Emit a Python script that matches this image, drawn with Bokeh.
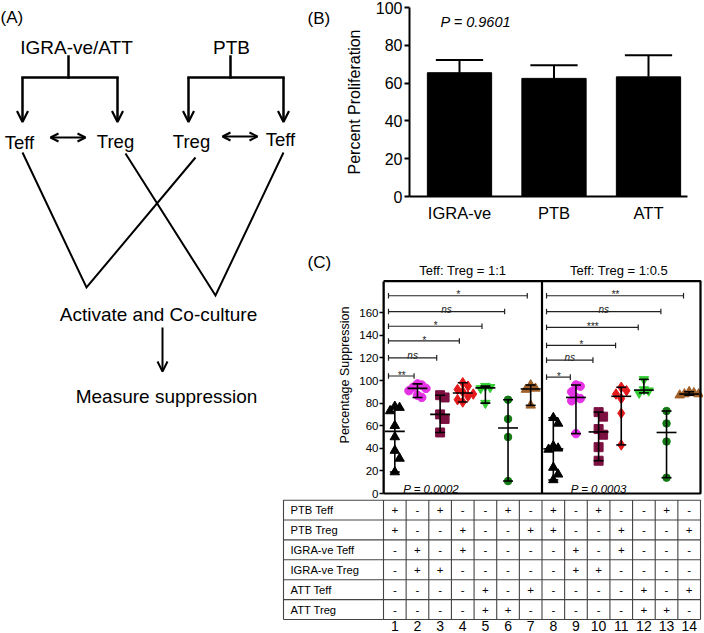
from bokeh.plotting import figure
from bokeh.layouts import row, column
from bokeh.models import Range1d, FixedTicker, Arrow, OpenHead, Spacer
from bokeh.embed import file_html
from bokeh.resources import INLINE
from bokeh.core.properties import value

# ------------------------------------------------------------------ data
b_groups = ["IGRA-ve", "PTB", "ATT"]
b_mean = [65.5, 62.5, 63.3]
b_err = [6.7, 7.0, 11.4]
b_yticks = [0, 20, 40, 60, 80, 100]
b_pvalue = "P = 0.9601"

c_titles = ["Teff: Treg = 1:1", "Teff: Treg = 1:0.5"]
c_pvalues = ["P = 0.0002", "P = 0.0003"]
c_yticks = [0, 20, 40, 60, 80, 100, 120, 140, 160]
c_ylabel = "Percentage Suppression"

sup_1to1 = [
    [77, 76, 73, 60, 50, 38, 31, 19],
    [97, 96, 94, 93, 91, 87, 85],
    [87, 85, 70, 66, 54],
    [98, 95, 92, 90, 88, 86, 83, 81],
    [95, 94, 93, 80],
    [83, 66, 50, 11],
    [96, 93, 92, 78],
]
sup_1to05 = [
    [67, 62, 42, 40, 39, 23, 17, 12],
    [96, 95, 90, 85, 84, 82, 53],
    [72, 68, 57, 52, 41, 29],
    [94, 91, 88, 84, 71, 43],
    [101, 92, 91, 89],
    [73, 62, 46, 14],
    [90, 89, 88, 88, 87],
]
sig_1to1 = ["**", "ns", "*", "*", "ns", "*"]
sig_1to05 = ["*", "ns", "*", "***", "ns", "**"]

table_rows = ["PTB Teff", "PTB Treg", "IGRA-ve Teff", "IGRA-ve Treg", "ATT Teff", "ATT Treg"]
table_marks = [
    ["+", "-", "+", "-", "-", "+", "-", "+", "-", "+", "-", "-", "+", "-"],
    ["+", "-", "-", "+", "-", "-", "+", "+", "-", "-", "+", "-", "-", "+"],
    ["-", "+", "-", "+", "-", "-", "-", "-", "+", "-", "+", "-", "-", "-"],
    ["-", "+", "+", "-", "-", "-", "-", "-", "+", "+", "-", "-", "-", "-"],
    ["-", "-", "-", "-", "+", "-", "+", "-", "-", "-", "-", "+", "-", "+"],
    ["-", "-", "-", "-", "+", "+", "-", "-", "-", "-", "-", "+", "+", "-"],
]
group_numbers = ["1", "2", "3", "4", "5", "6", "7", "8", "9", "10", "11", "12", "13", "14"]

# ------------------------------------------------------------------ layout / style
FONT = "Liberation Sans"


def F(v):
    return f"{v:.2f}px"


PAGE_W = 703
PAGE_H = 632
W_A = 334
W_R = PAGE_W - W_A
H_B = 250
H_C = 249
H_A = H_B + H_C
W_SP = 281
W_T = PAGE_W - W_SP
H_T = PAGE_H - H_A

grp_colors = ["#000000", "#e632e6", "#7c1040", "#e41a1c", "#33cc33", "#137a13", "#a0602a"]
grp_markers = ["triangle", "circle", "square", "diamond", "inverted_triangle", "circle", "triangle"]
grp_sizes = [9.5, 8.5, 9, 10.5, 9.5, 7.5, 9.5]


def base_fig(**kw):
    p = figure(output_backend="svg", toolbar_location=None, min_border=0,
               background_fill_color="white", border_fill_color="white", **kw)
    p.outline_line_color = None
    p.grid.grid_line_color = None
    p.frame_align = False
    return p


# ------------------------------------------------------------------ panel A (diagram)
pa = base_fig(width=W_A, height=H_A, x_range=Range1d(0, W_A), y_range=Range1d(H_A, 0),
              x_axis_location=None, y_axis_location=None)

pa.text(x=[0, 307, 307], y=[17, 17.5, 262], text=["(A)", "(B)", "(C)"],
        text_font=value(FONT), text_font_size=F(17), text_align="left",
        text_baseline="alphabetic", text_color="black")
pa.text(x=[76, 231, 158, 166], y=[46.5, 46.5, 314, 396],
        text=["IGRA-ve/ATT", "PTB", "Activate and Co-culture", "Measure suppression"],
        text_font=value(FONT), text_font_size=F(19), text_align="center",
        text_baseline="alphabetic", text_color="black")
pa.text(x=[19, 115, 191, 280], y=[141.5, 140.5, 140.5, 139],
        text=["Teff", "Treg", "Treg", "Teff"],
        text_font=value(FONT), text_font_size=F(18.5), text_align="center",
        text_baseline="alphabetic", text_color="black")

pa.multi_line(xs=[[68, 68], [22, 117], [230, 230], [188, 283]],
              ys=[[56, 77], [77, 77], [56, 77], [77, 77]],
              line_color="black", line_width=2.5, line_cap="square")
pa.multi_line(xs=[[22, 86, 195], [125, 215, 283]],
              ys=[[152, 287, 157], [153, 295, 152]],
              line_color="black", line_width=2, line_join="miter")

for xa in [22, 117, 188, 283]:
    pa.add_layout(Arrow(end=OpenHead(size=11, line_width=2.2, line_color="black"),
                        x_start=xa, y_start=77, x_end=xa, y_end=121.5,
                        line_width=2.5, line_color="black"))
for (xs0, xs1, yy) in [(50, 85, 137), (222, 257, 136)]:
    pa.add_layout(Arrow(start=OpenHead(size=8, line_width=2, line_color="black"),
                        end=OpenHead(size=8, line_width=2, line_color="black"),
                        x_start=xs0, y_start=yy, x_end=xs1, y_end=yy,
                        line_width=2, line_color="black"))
pa.add_layout(Arrow(end=OpenHead(size=10, line_width=2, line_color="black"),
                    x_start=162, y_start=327, x_end=162, y_end=371,
                    line_width=2, line_color="black"))

# ------------------------------------------------------------------ panel B (bars)
B_BL = 409 - W_A
B_BR = PAGE_W - 687
B_BT = 7
B_BB = H_B - B_BT - 189
b_ux = 94.5
b_x = [1, 2, 3]
b_x0 = 1 - (459 - 409) / b_ux
b_x1 = b_x0 + (W_R - B_BL - B_BR) / b_ux

pb = base_fig(width=W_R, height=H_B, x_range=Range1d(b_x0, b_x1), y_range=Range1d(0, 100))
pb.min_border_left = B_BL
pb.min_border_right = B_BR
pb.min_border_top = B_BT
pb.min_border_bottom = B_BB

b_top = [m + e for m, e in zip(b_mean, b_err)]
pb.segment(x0=b_x, x1=b_x, y0=b_mean, y1=b_top, line_color="black", line_width=2)
pb.segment(x0=[x - 0.25 for x in b_x], x1=[x + 0.25 for x in b_x], y0=b_top, y1=b_top,
           line_color="black", line_width=2)
pb.vbar(x=b_x, top=b_mean, width=0.68, bottom=0, fill_color="black", line_color="black")
pb.text(x=[b_x0 + (440 - 409) / b_ux], y=[92.4], text=[b_pvalue], text_font=value(FONT),
        text_font_size=F(14.5), text_font_style="italic", text_align="left",
        text_baseline="alphabetic", text_color="black")

pb.yaxis.ticker = FixedTicker(ticks=b_yticks)
pb.yaxis.axis_label = "Percent Proliferation"
pb.xaxis.ticker = FixedTicker(ticks=b_x)
pb.xaxis.major_label_overrides = {x: g for x, g in zip(b_x, b_groups)}
for ax in [pb.xaxis[0], pb.yaxis[0]]:
    ax.axis_line_width = 2
    ax.axis_line_color = "black"
    ax.major_tick_line_width = 2
    ax.major_tick_line_color = "black"
    ax.minor_tick_line_color = None
    ax.major_tick_in = 0
    ax.major_label_text_font = FONT
    ax.major_label_text_color = "black"
    ax.axis_label_text_font = FONT
    ax.axis_label_text_font_style = "normal"
    ax.axis_label_text_color = "black"
pb.yaxis.major_tick_out = 5
pb.yaxis.major_label_text_font_size = F(16)
pb.yaxis.major_label_standoff = 2
pb.yaxis.axis_label_text_font_size = F(16)
pb.yaxis.axis_label_standoff = 10
pb.xaxis.major_tick_out = 0
pb.xaxis.major_label_text_font_size = F(16.5)
pb.xaxis.major_label_standoff = 7

# ------------------------------------------------------------------ panel C (scatter)
C_BL = 383 - W_A
UX = 317 / 14
UY = 1.13
C_Y0_PX = 243
C_TOP = 188
c_x1 = 0.5 + (W_R - C_BL) / UX
c_y1 = C_Y0_PX / UY
c_y0 = -(H_C - C_Y0_PX) / UY

pc = base_fig(width=W_R, height=H_C, x_range=Range1d(0.5, c_x1), y_range=Range1d(c_y0, c_y1),
              x_axis_location=None)
pc.min_border_left = C_BL

all_groups = sup_1to1 + sup_1to05


def swarm(vals, size_px):
    placed = []
    offs = []
    cands = [0]
    for i in range(1, 12):
        cands += [i, -i]
    for v in vals:
        vy = v * UY
        ox = 0
        for c in cands:
            ox = c * 0.5 * size_px
            if all(not (abs(ox - a) < 0.5 * size_px and abs(vy - b) < 0.85 * size_px)
                   for a, b in placed):
                break
        placed.append((ox, vy))
        offs.append(ox / UX)
    return offs


for gi, vals in enumerate(all_groups):
    k = gi % 7
    g = gi + 1
    sz = grp_sizes[k]
    offs = swarm(vals, sz)
    pc.scatter(x=[g + o for o in offs], y=vals, marker=grp_markers[k], size=sz,
               fill_color=grp_colors[k], line_color=grp_colors[k])

med, lo, hi, gx = [], [], [], []
for gi, vals in enumerate(all_groups):
    s = sorted(vals)
    n = len(s)
    m = s[n // 2] if n % 2 else (s[n // 2 - 1] + s[n // 2]) / 2
    med.append(m)
    lo.append(s[0])
    hi.append(s[-1])
    gx.append(gi + 1)
pc.segment(x0=gx, x1=gx, y0=lo, y1=hi, line_color="black", line_width=1.6)
pc.segment(x0=[x - 0.22 for x in gx] * 2, x1=[x + 0.22 for x in gx] * 2, y0=lo + hi, y1=lo + hi,
           line_color="black", line_width=1.6)
pc.segment(x0=[x - 0.44 for x in gx], x1=[x + 0.44 for x in gx], y0=med, y1=med,
           line_color="black", line_width=1.6)

# frame box and divider
pc.quad(left=[0.5], right=[14.5], bottom=[0], top=[C_TOP], fill_color=None,
        line_color="black", line_width=2.2)
pc.segment(x0=[7.5], x1=[7.5], y0=[0], y1=[C_TOP], line_color="black", line_width=2.2)

# significance brackets
br_h_left = [104, 120, 135, 148, 161, 175]
br_h_right = [103, 118, 131, 147, 161, 175]
bx0, bx1, by, blab = [], [], [], []
for j, (h, lab) in enumerate(zip(br_h_left, sig_1to1)):
    bx0.append(1 - 0.28)
    bx1.append(j + 2 - 0.15)
    by.append(h)
    blab.append(lab)
for j, (h, lab) in enumerate(zip(br_h_right, sig_1to05)):
    bx0.append(8 - 0.3)
    bx1.append(j + 9 - 0.25)
    by.append(h)
    blab.append(lab)
tick_h = 2.8 / UY
pc.segment(x0=bx0, x1=bx1, y0=by, y1=by, line_color="#222222", line_width=1.2)
pc.segment(x0=bx0 + bx1, x1=bx0 + bx1, y0=[b - tick_h for b in by] * 2,
           y1=[b + tick_h for b in by] * 2, line_color="#222222", line_width=1.2)
lab_y = [b + (2.5 if l == "ns" else 0.8) / UY for b, l in zip(by, blab)]
pc.text(x=[(a + b) / 2 for a, b in zip(bx0, bx1)], y=lab_y, text=blab,
        text_font=value(FONT), text_font_size=F(10), text_font_style="italic",
        text_align="center", text_baseline="alphabetic", text_color="#222222")

pc.text(x=[4.0, 10.9], y=[197.3, 197.3], text=c_titles, text_font=value(FONT),
        text_font_size=F(13), text_align="center", text_baseline="alphabetic",
        text_color="black")
pc.text(x=[1.37, 8.77], y=[4.2, 4.2], text=c_pvalues, text_font=value(FONT),
        text_font_size=F(11.5), text_font_style="italic", text_align="left",
        text_baseline="alphabetic", text_color="black")

yax = pc.yaxis[0]
yax.ticker = FixedTicker(ticks=c_yticks)
yax.bounds = (0, C_TOP)
yax.axis_label = c_ylabel
yax.axis_label_text_font = FONT
yax.axis_label_text_font_style = "normal"
yax.axis_label_text_font_size = F(12.5)
yax.axis_label_text_color = "black"
yax.axis_label_standoff = 4
yax.major_label_text_font = FONT
yax.major_label_text_font_size = F(11.5)
yax.major_label_text_color = "black"
yax.major_label_standoff = 1
yax.major_tick_out = 4
yax.major_tick_in = 0
yax.minor_tick_line_color = None
yax.axis_line_width = 2
yax.major_tick_line_width = 1.5

# ------------------------------------------------------------------ table
T_ROW = 19.9
T_TOP = 0.6
t_x0 = 0.5 - (W_A + C_BL - W_SP) / UX
t_x1 = t_x0 + W_T / UX
t_left = 0.5 - 100 / UX
t_ybot = (H_T - T_TOP) / T_ROW
t_ytop = -T_TOP / T_ROW
n_rows = len(table_rows)
n_cols = len(group_numbers)
num_base = (H_T - 7 - T_TOP) / T_ROW

pt = base_fig(width=W_T, height=H_T, x_range=Range1d(t_x0, t_x1), y_range=Range1d(t_ybot, t_ytop),
              x_axis_location=None, y_axis_location=None)
hy = list(range(n_rows + 1))
pt.segment(x0=[t_left] * len(hy), x1=[n_cols + 0.5] * len(hy), y0=hy, y1=hy,
           line_color="#444444", line_width=1.1)
vx = [t_left] + [c + 0.5 for c in range(n_cols + 1)]
pt.segment(x0=vx, x1=vx, y0=[0] * len(vx), y1=[n_rows] * len(vx),
           line_color="#444444", line_width=1.1)
pt.text(x=[t_left + 7 / UX] * n_rows, y=[r + 0.5 for r in range(n_rows)], text=table_rows,
        text_font=value(FONT), text_font_size=F(11.2), text_align="left",
        text_baseline="middle", text_color="black")
mx, my, mt = [], [], []
for r, marks in enumerate(table_marks):
    for c, m in enumerate(marks):
        mx.append(c + 1)
        my.append(r + 0.5)
        mt.append(m)
pt.text(x=mx, y=my, text=mt, text_font=value(FONT), text_font_size=F(11.5),
        text_align="center", text_baseline="middle", text_color="black")
pt.text(x=[c + 1 for c in range(n_cols)], y=[num_base] * n_cols, text=group_numbers,
        text_font=value(FONT), text_font_size=F(14), text_align="center",
        text_baseline="alphabetic", text_color="black")

# ------------------------------------------------------------------ page
layout = column(row(pa, column(pb, pc)), row(Spacer(width=W_SP, height=H_T), pt))
open("out.html", "w").write(file_html(layout, INLINE))
